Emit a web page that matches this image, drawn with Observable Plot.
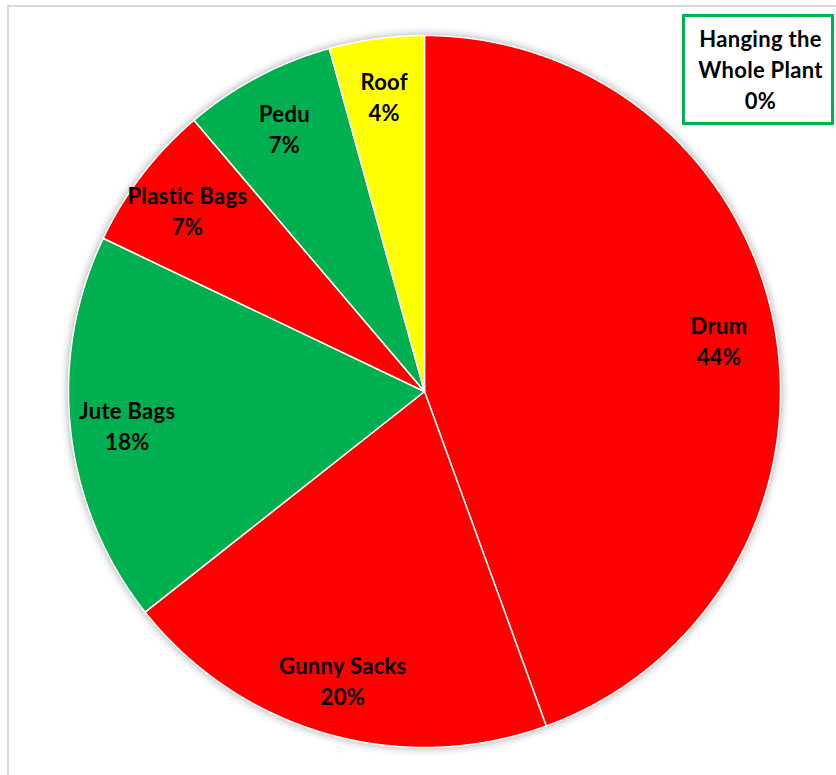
<!DOCTYPE html>
<html>
<head>
<meta charset="utf-8">
<script src="https://cdn.jsdelivr.net/npm/d3@7"></script>
<script src="https://cdn.jsdelivr.net/npm/@observablehq/plot@0.6"></script>
<style>
html,body{margin:0;padding:0;background:#fff;width:836px;height:775px;overflow:hidden;}
#wrap{position:relative;width:836px;height:775px;}
#chartBorder{position:absolute;left:7px;top:5px;width:900px;height:900px;border:2px solid #d9d9d9;box-sizing:border-box;}
#callout{position:absolute;left:682px;top:14px;width:152px;height:111px;border:3px solid #00B050;box-sizing:border-box;background:#fff;}
#chart{position:absolute;left:0;top:0;}
#chart svg g[aria-label="line"]{filter:drop-shadow(0px 0px 4px rgba(0,0,0,0.35));}
#chart svg text{font-variant-ligatures:none;letter-spacing:0.3px;}
</style>
</head>
<body>
<div id="wrap">
  <div id="chartBorder"></div>
  <div id="callout"></div>
  <div id="chart"></div>
</div>
<script>
// ---- data ----
const categories = ["Drum", "Gunny Sacks", "Jute Bags", "Plastic Bags", "Pedu", "Roof", "Hanging the Whole Plant"];
const shares = [44.4, 19.9, 17.7, 6.7, 6.9, 4.3, 0];
const colors = ["#FF0000", "#FF0000", "#00B050", "#FF0000", "#00B050", "#FFFF00", "#00B050"];
const calloutCategory = "Hanging the Whole Plant";

// ---- build slices ----
const table = categories.map((c, i) => ({cat: c, share: shares[i]}));
const total = d3.sum(shares);
const arcs = d3.pie().sort(null).value(d => d.share)(table);

const outline = [];
for (const a of arcs) {
  if (a.data.share <= 0) continue;
  const n = Math.max(2, Math.ceil((a.endAngle - a.startAngle) / 0.005));
  outline.push({cat: a.data.cat, x: 0, y: 0});
  for (let k = 0; k <= n; k++) {
    const t = a.startAngle + (a.endAngle - a.startAngle) * k / n;
    outline.push({cat: a.data.cat, x: Math.sin(t), y: Math.cos(t)});
  }
  outline.push({cat: a.data.cat, x: 0, y: 0});
}

const pct = d => `${Math.round(d.share / total * 100)}%`;
const labelR = 0.84;
const inner = arcs.filter(a => a.data.share > 0).map(a => {
  const m = (a.startAngle + a.endAngle) / 2;
  return {cat: a.data.cat, share: a.data.share, x: labelR * Math.sin(m), y: labelR * Math.cos(m)};
});
const callout = table.filter(d => d.cat === calloutCategory);

const font = "Lato, 'Liberation Sans', sans-serif";

const chart = Plot.plot({
  width: 836,
  height: 775,
  margin: 0,
  style: {background: "transparent", fontFamily: font},
  x: {domain: [-1, 1], range: [68, 780], axis: null},
  y: {domain: [-1, 1], range: [747, 35], axis: null},
  color: {domain: categories, range: colors},
  marks: [
    Plot.line(outline, {x: "x", y: "y", z: "cat", fill: "cat", stroke: "white", strokeWidth: 1.5, curve: "linear"}),
    Plot.text(inner, {
      x: "x", y: "y",
      text: d => `${d.cat}\n${pct(d)}`,
      fontSize: 22, fontWeight: "bold", fill: "#000", lineHeight: 1.41
    }),
    Plot.text(callout, {
      frameAnchor: "top-right", dx: -76, dy: 68,
      textAnchor: "middle", lineAnchor: "middle",
      text: d => `Hanging the\nWhole Plant\n${pct(d)}`,
      fontSize: 22, fontWeight: "bold", fill: "#000", lineHeight: 1.41
    })
  ]
});
document.getElementById("chart").appendChild(chart);
</script>
</body>
</html>
